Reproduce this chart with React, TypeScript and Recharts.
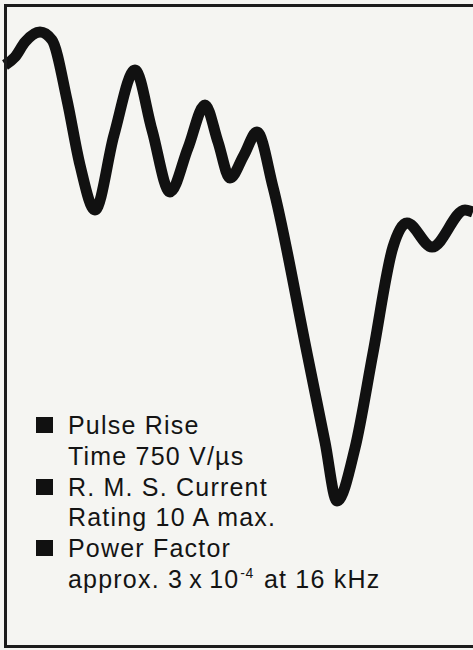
import { LineChart, Line, XAxis, YAxis } from "recharts"

// waveform: time (px units) and level (px above the bottom edge)
const time = [5, 15, 25, 40, 52, 67, 80, 95, 114, 135, 152, 170, 188, 205, 218, 230, 244, 257, 273, 307, 325, 337, 355, 373, 393, 407, 432, 465, 473]
const level = [585, 593, 608, 618, 610, 550, 485, 440, 515, 580, 520, 458, 502, 545, 508, 472, 495, 518, 463, 297, 208, 149, 202, 297, 403, 427, 403, 440, 438]

const features = [
  { title: "Pulse Rise", detail: "Time 750 V/µs" },
  { title: "R. M. S. Current", detail: "Rating 10 A max." },
  { title: "Power Factor", detail: "approx. 3\u2009x\u200910|-4| at 16 kHz" },
]

const data = time.map((t, i) => ({ t, v: level[i] }))

function Detail({ text }: { text: string }) {
  const parts = text.split("|")
  return (
    <>
      {parts.map((p, i) =>
        i % 2 === 1 ? (
          <span key={i} style={{ fontSize: 14, position: "relative", top: -10, letterSpacing: 0.5, marginLeft: 1, marginRight: 2 }}>
            {p}
          </span>
        ) : (
          <span key={i}>{p}</span>
        )
      )}
    </>
  )
}

export default function App() {
  return (
    <div style={{ position: "absolute", left: 0, top: 0, width: 473, height: 650, background: "#f5f5f2", overflow: "hidden" }}>
      <div style={{ position: "absolute", left: 0, top: 0 }}>
        <LineChart width={473} height={650} data={data} margin={{ top: 0, right: 0, bottom: 0, left: 0 }}>
          <XAxis dataKey="t" type="number" domain={[0, 473]} hide />
          <YAxis type="number" domain={[0, 650]} hide />
          <Line
            type="monotone"
            dataKey="v"
            stroke="#111111"
            strokeWidth={11}
            strokeLinejoin="round"
            dot={false}
            activeDot={false}
            isAnimationActive={false}
          />
        </LineChart>
      </div>
      <div
        style={{
          position: "absolute",
          left: 4,
          top: 4,
          width: 480,
          height: 644,
          boxSizing: "border-box",
          border: "3px solid #1c1c1c",
        }}
      />
      <div
        style={{
          position: "absolute",
          left: 68,
          top: 410,
          fontFamily: "'Liberation Sans', Arial, Helvetica, sans-serif",
          fontSize: 25,
          lineHeight: "30.8px",
          letterSpacing: 1.2,
          color: "#141414",
          whiteSpace: "nowrap",
        }}
      >
        {features.map((f) => (
          <div key={f.title} style={{ position: "relative" }}>
            <div style={{ position: "absolute", left: -32, top: 7, width: 17, height: 16, background: "#111111" }} />
            <div>{f.title}</div>
            <div>
              <Detail text={f.detail} />
            </div>
          </div>
        ))}
      </div>
    </div>
  )
}
